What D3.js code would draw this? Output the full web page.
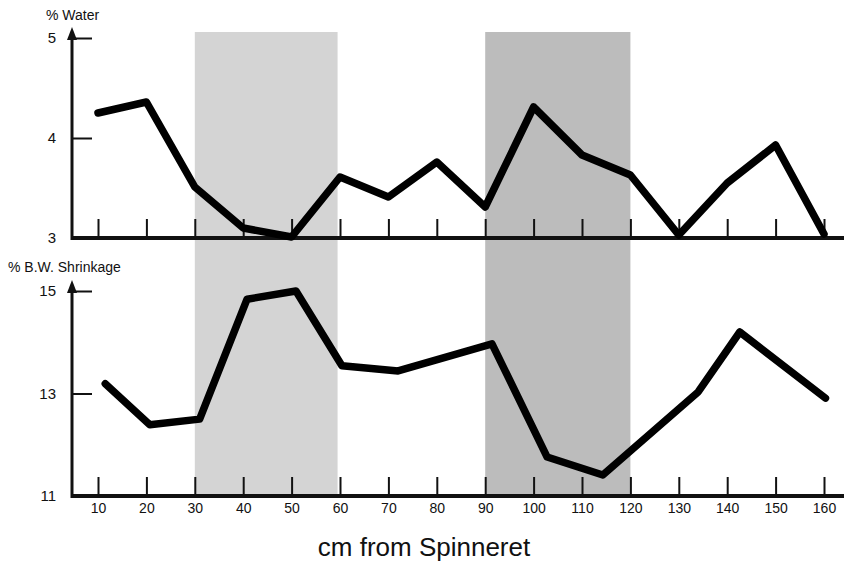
<!DOCTYPE html>
<meta charset="utf-8">
<head>
	<title> Water and Shrinkage </title>
	<script src="https://d3js.org/d3.v7.min.js"></script>
	<style>
		body { margin: 0; background: #fff; }
		text { font-family: "Liberation Sans", Arial, sans-serif; fill: #111; }
		.axis text { font-size: 14px; }
		.yaxis text { font-size: 15px; }
		.axis line { stroke: #111; stroke-width: 2; }
		.axis path { display: none; }
	</style>
</head>
<body>
	<div id="chart"></div>
	<script>
		// values
		var waterX = [10, 20, 30, 40, 50, 60, 70, 80, 90, 100, 110, 120, 130, 140, 150, 160];
		var waterY = [4.25, 4.36, 3.51, 3.10, 3.01, 3.61, 3.41, 3.76, 3.31, 4.31, 3.83, 3.63, 3.03, 3.55, 3.93, 3.04];

		var shrinkX = [11.5, 20.7, 31, 40.8, 50.9, 60.4, 72, 91.4, 102.8, 114.3, 134, 142.6, 160.3];
		var shrinkY = [13.19, 12.39, 12.5, 14.84, 15.0, 13.54, 13.44, 13.97, 11.76, 11.41, 13.03, 14.2, 12.91];

		var xTicks = [10, 20, 30, 40, 50, 60, 70, 80, 90, 100, 110, 120, 130, 140, 150, 160];
		var waterTicks = [3, 4, 5];
		var shrinkTicks = [11, 13, 15];
		var shadeStart = [30, 90];
		var shadeEnd = [59.5, 120];

		var width = 844, height = 564;
		var axisX = 72, axisRight = 844;

		var svg = d3.select("#chart")
			.append("svg")
			.attr("width", width)
			.attr("height", height);

		var x = d3.scaleLinear().domain([10, 160]).range([98, 824]);
		var yTop = d3.scaleLinear().domain([3, 5]).range([238, 38]);
		var yBot = d3.scaleLinear().domain([11, 15]).range([496, 291]);

		// shaded bands
		var bands = shadeStart.map(function(d, i){ return {a: d, b: shadeEnd[i], i: i}; });
		svg.append("g")
			.selectAll("rect")
			.data(bands)
			.enter()
			.append("rect")
			.attr("x", function(d){ return x(d.a); })
			.attr("width", function(d){ return x(d.b) - x(d.a); })
			.attr("y", yTop(5) - 6)
			.attr("height", yBot(11) - yTop(5) + 6)
			.attr("fill", function(d){ return d.i == 0 ? "#d4d4d4" : "#bcbcbc"; });

		// draw one panel: axes + line
		function panel(yScale, ticks, xs, ys, label, labelY, showLabels){
			var g = svg.append("g");
			var y0 = yScale.range()[0];
			var yMax = yScale.range()[1];

			var xAxis = d3.axisBottom(x)
				.tickValues(xTicks)
				.tickSizeInner(-19)
				.tickSizeOuter(0)
				.tickPadding(7);
			if (!showLabels) xAxis.tickFormat("");
			g.append("g")
				.attr("class", "axis")
				.attr("transform", "translate(0," + y0 + ")")
				.call(xAxis);

			var yAxis = d3.axisLeft(yScale)
				.tickValues(ticks)
				.tickFormat(d3.format("d"))
				.tickSizeInner(-20)
				.tickSizeOuter(0)
				.tickPadding(16);
			g.append("g")
				.attr("class", "axis yaxis")
				.attr("transform", "translate(" + axisX + ",0)")
				.call(yAxis);

			// axis lines
			g.append("line")
				.attr("x1", axisX).attr("x2", axisRight)
				.attr("y1", y0).attr("y2", y0)
				.attr("stroke", "#111").attr("stroke-width", 4);
			g.append("line")
				.attr("x1", axisX).attr("x2", axisX)
				.attr("y1", y0 + 2).attr("y2", yMax - 4)
				.attr("stroke", "#111").attr("stroke-width", 3);
			// arrow head
			g.append("path")
				.attr("d", "M" + (axisX - 5) + "," + (yMax + 2) + "L" + axisX + "," + (yMax - 11) + "L" + (axisX + 5) + "," + (yMax + 2) + "Z")
				.attr("fill", "#111");

			g.append("text")
				.attr("x", label[1])
				.attr("y", labelY)
				.style("font-size", "14px")
				.text(label[0]);

			var line = d3.line()
				.x(function(d){ return x(d[0]); })
				.y(function(d){ return yScale(d[1]); });
			g.append("path")
				.datum(xs.map(function(d, i){ return [d, ys[i]]; }))
				.attr("d", line)
				.attr("fill", "none")
				.attr("stroke", "#000")
				.attr("stroke-width", 7.5)
				.attr("stroke-linejoin", "round")
				.attr("stroke-linecap", "round");
		}

		panel(yTop, waterTicks, waterX, waterY, ["% Water", 46], 20, false);
		panel(yBot, shrinkTicks, shrinkX, shrinkY, ["% B.W. Shrinkage", 8], 272, true);

		svg.append("text")
			.attr("x", 424)
			.attr("y", 556)
			.attr("text-anchor", "middle")
			.style("font-size", "26px")
			.text("cm from Spinneret");
	</script>
</body>
</html>
